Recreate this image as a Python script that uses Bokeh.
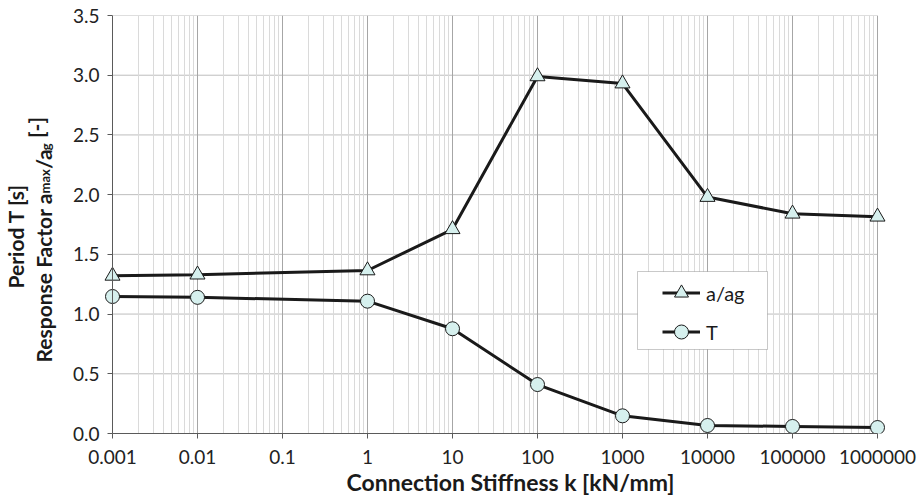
from bokeh.plotting import figure
from bokeh.models import (FixedTicker, Range1d, Legend, LegendItem,
                          BoxAnnotation, Title, Span)
from bokeh.embed import file_html
from bokeh.resources import INLINE

# ---- data ----
stiffness = [0.001, 0.01, 1, 10, 100, 1000, 10000, 100000, 1000000]
response_factor = [1.32, 1.33, 1.365, 1.71, 2.99, 2.93, 1.98, 1.84, 1.815]
period = [1.147, 1.14, 1.108, 0.877, 0.41, 0.148, 0.067, 0.059, 0.05]

x_ticks = [0.001, 0.01, 0.1, 1, 10, 100, 1000, 10000, 100000, 1000000]
x_tick_labels = ["0.001", "0.01", "0.1", "1", "10", "100", "1000",
                 "10000", "100000", "1000000"]
y_ticks = [0.0, 0.5, 1.0, 1.5, 2.0, 2.5, 3.0, 3.5]
y_tick_labels = ["0.0", "0.5", "1.0", "1.5", "2.0", "2.5", "3.0", "3.5"]
series_labels = ["a/ag", "T"]

x_minor = [m * 10.0 ** e for e in range(-3, 6) for m in range(2, 10)]

FONT = "Lato"
FILL = "#d6f0ee"
LINE = "#1a1a1a"
TXT = "#1a1a1a"
AXC = "#5a5a5a"

# ---- layout constants (canvas px) ----
AX_L, AX_R, FT, FB = 112, 877, 15, 433      # axis span / frame top-bottom
PAD = 9                                     # room so edge markers are whole
FL, FR = AX_L - PAD, AX_R + PAD
W, H = 918, 496

decade_px = (AX_R - AX_L) / 9.0
ext = PAD / decade_px

p = figure(width=W, height=H, x_axis_type="log",
           x_range=Range1d(x_ticks[0] / 10 ** ext, x_ticks[-1] * 10 ** ext),
           y_range=Range1d(y_ticks[0], y_ticks[-1]),
           output_backend="svg", toolbar_location=None,
           min_border_left=FL, min_border_right=W - FR,
           min_border_top=FT, min_border_bottom=H - FB)
p.outline_line_color = None
p.background_fill_color = "white"
p.border_fill_color = "white"
p.ygrid.visible = False

y_px = (FB - FT) / 3.5


def xd(px):
    return 10 ** (-3 + (px - AX_L) / decade_px)


def yd(py):
    return (FB - py) / y_px


# axes
p.xaxis.ticker = FixedTicker(ticks=x_ticks, minor_ticks=x_minor)
p.xaxis.major_label_overrides = dict(zip(x_ticks, x_tick_labels))
p.xaxis.bounds = (x_ticks[0], x_ticks[-1])
p.yaxis.ticker = FixedTicker(ticks=y_ticks)
p.yaxis.major_label_overrides = dict(zip(y_ticks, y_tick_labels))

for ax in (p.xaxis[0], p.yaxis[0]):
    ax.axis_line_color = AXC
    ax.major_tick_line_color = AXC
    ax.minor_tick_line_color = None
    ax.major_label_text_font = FONT
    ax.major_label_text_font_size = "19px"
    ax.major_label_text_color = "#222222"
p.xaxis.major_tick_out = 5
p.xaxis.major_tick_in = 0
p.xaxis.major_label_standoff = 11
# y axis sits at the frame edge, PAD px left of x = 0.001: draw ticks
# from the frame edge so they end at the 0.001 line
p.yaxis.axis_line_color = None
p.yaxis.major_tick_in = PAD
p.yaxis.major_tick_out = -(PAD - 5)
p.yaxis.major_label_standoff = 4
p.add_layout(Span(location=x_ticks[0], dimension="height",
                  line_color=AXC, line_width=1))

# grids
p.xgrid.grid_line_color = "#a6a6a6"
p.xgrid.minor_grid_line_color = "#dadada"
p.segment(x0=x_ticks[0], x1=x_ticks[-1], y0=y_ticks, y1=y_ticks,
          line_color="#bdbdbd", line_width=1, level="underlay")

# series
l1 = p.line(stiffness, response_factor, line_color=LINE, line_width=3)
s1 = p.scatter(stiffness, response_factor, marker="triangle", size=15,
               fill_color=FILL, line_color=LINE, line_width=1)
l2 = p.line(stiffness, period, line_color=LINE, line_width=3)
s2 = p.scatter(stiffness, period, marker="circle", size=14,
               fill_color=FILL, line_color=LINE, line_width=1)

# legend box + legend
box = BoxAnnotation(left=xd(637), right=xd(767), top=yd(271), bottom=yd(349),
                    fill_color="white", fill_alpha=1.0,
                    line_color="#4d4d4d", line_width=1)
p.add_layout(box)
legend = Legend(items=[LegendItem(label=series_labels[0], renderers=[l1, s1]),
                       LegendItem(label=series_labels[1], renderers=[l2, s2])],
                location=(662 - FL, FB - 349), orientation="vertical",
                padding=0, margin=0, spacing=4, glyph_width=38,
                glyph_height=35, label_standoff=6,
                border_line_color=None, background_fill_alpha=0,
                label_text_font=FONT, label_text_font_size="20px",
                label_text_color=TXT)
p.add_layout(legend)


# ---- axis titles as Title annotations in the side panels ----
def ttl(text, size, offset, standoff, align="left", valign="bottom"):
    return Title(text=text, align=align, offset=offset, standoff=standoff,
                 vertical_align=valign, text_font=FONT,
                 text_font_style="bold", text_font_size=f"{size}px",
                 text_color=TXT)


H13, H21 = 15.6, 25.2          # approx. text box heights

# x title: spacer then title
p.add_layout(ttl(" ", 13, 0, 6 - 2 - H13), "below")
p.add_layout(ttl("Connection Stiffness k [kN/mm]", 23, 351 - (FL + 5),
                 -8.5, valign="top"), "below")

# y title, inner-most panel first
B = FB - 5                          # along-axis start reference
S1, T1, G = 23.7, 2.3, 15.5         # panel thicknesses
p.add_layout(ttl(" ", 13, 0, S1 - 2 - H13), "left")
p.add_layout(ttl("g", 13, B - 144.8, -(2 + H13)), "left")
p.add_layout(ttl("max", 13, B - 188.0, T1 - 2 - H13), "left")
p.add_layout(ttl("Response Factor a", 21, B - 357.0, -(2 + H21)), "left")
p.add_layout(ttl("/a", 21, B - 163.3, -(2 + H21)), "left")
p.add_layout(ttl("[-]", 21, B - 132.5, G - 2 - H21), "left")
p.add_layout(ttl("Period T [s]", 21, B - 283.0, 0), "left")

open("out.html", "w").write(file_html(p, INLINE))
